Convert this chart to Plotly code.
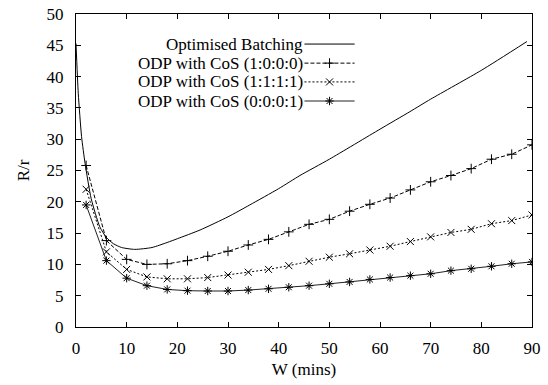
import plotly.graph_objects as go

# ---- data ----
batch_w = [0, 0.45, 1.1, 1.8, 3, 4.7, 6, 7.4, 9, 11.6, 15, 18, 20, 24.5, 30, 34.3, 40, 44.2, 50, 60, 65.9, 70, 80, 89]
batch_r = [45.3, 37.3, 30.4, 26.1, 20.5, 16.0, 14.3, 13.3, 12.7, 12.4, 12.7, 13.5, 14.1, 15.5, 17.6, 19.5, 22.1, 24.2, 26.8, 31.6, 34.4, 36.4, 41.0, 45.6]

w_pts = [2, 6, 10, 14, 18, 22, 26, 30, 34, 38, 42, 46, 50, 54, 58, 62, 66, 70, 74, 78, 82, 86, 90]
cos_1000 = [25.8, 13.8, 10.8, 10.0, 10.1, 10.6, 11.3, 12.1, 13.1, 14.0, 15.2, 16.4, 17.2, 18.5, 19.6, 20.6, 21.9, 23.2, 24.2, 25.3, 26.8, 27.6, 29.1]
cos_1111 = [22.0, 12.0, 9.2, 8.0, 7.7, 7.7, 7.9, 8.3, 8.75, 9.2, 9.8, 10.5, 11.15, 11.7, 12.3, 12.9, 13.65, 14.4, 15.1, 15.6, 16.5, 17.0, 17.9]
cos_0001 = [19.5, 10.6, 7.8, 6.6, 6.0, 5.8, 5.75, 5.75, 5.9, 6.1, 6.35, 6.6, 6.9, 7.2, 7.6, 7.9, 8.2, 8.5, 9.0, 9.3, 9.7, 10.1, 10.4]

names = ["Optimised Batching", "ODP with CoS (1:0:0:0)", "ODP with CoS (1:1:1:1)", "ODP with CoS (0:0:0:1)"]
x_ticks = [0, 10, 20, 30, 40, 50, 60, 70, 80, 90]
y_ticks = [0, 5, 10, 15, 20, 25, 30, 35, 40, 45, 50]

FONT = "'Liberation Serif', 'Times New Roman', Times, serif"
FS = 17
styles = [
    dict(dash="solid", symbol=None, color="black"),
    dict(dash="4px,2px", symbol="cross-thin-open", color="black"),
    dict(dash="2px,2px", symbol="x-thin-open", color="black"),
    dict(dash="solid", symbol="asterisk-open", color="#222"),
]

fig = go.Figure()
fig.add_trace(go.Scatter(x=batch_w, y=batch_r, mode="lines", line=dict(color="black", width=1, shape="spline", smoothing=0.6), showlegend=False))
for ys, st in zip([cos_1000, cos_1111, cos_0001], styles[1:]):
    fig.add_trace(go.Scatter(x=w_pts, y=ys, mode="lines+markers",
                             line=dict(color=st["color"], width=1, dash=st["dash"]),
                             marker=dict(symbol=st["symbol"], size=7, color="black", line=dict(width=1, color="black")),
                             showlegend=False))

# manual gnuplot-style legend (text left, sample right) on an overlay axis in 0..1 units
leg_y = [0.904, 0.843, 0.783, 0.722]
for i, (nm, st) in enumerate(zip(names, styles)):
    fig.add_trace(go.Scatter(x=[0.501, 0.611], y=[leg_y[i], leg_y[i]], mode="lines",
                             line=dict(color=st["color"], width=1, dash=st["dash"]),
                             xaxis="x2", yaxis="y2", showlegend=False, hoverinfo="skip"))
    if st["symbol"]:
        fig.add_trace(go.Scatter(x=[0.556], y=[leg_y[i]], mode="markers",
                                 marker=dict(symbol=st["symbol"], size=7, color="black", line=dict(width=1, color="black")),
                                 xaxis="x2", yaxis="y2", showlegend=False, hoverinfo="skip"))
    fig.add_annotation(x=0.502, y=leg_y[i], xref="x2", yref="y2", text=nm, showarrow=False,
                       xanchor="right", yanchor="middle", font=dict(family=FONT, size=FS, color="black"))

axis_common = dict(showline=True, linecolor="black", linewidth=1, mirror="ticks", ticks="inside",
                   ticklen=5, tickcolor="black", showgrid=False, zeroline=False, automargin=False,
                   tickfont=dict(family=FONT, size=FS, color="black"))

fig.update_layout(
    width=548, height=385,
    margin=dict(l=76, r=16, t=14, b=58, autoexpand=False),
    paper_bgcolor="white", plot_bgcolor="white",
    font=dict(family=FONT, size=FS, color="black"),
    xaxis=dict(range=[0, 90], tickvals=x_ticks, ticklabelstandoff=6,
               title=dict(text="W (mins)", font=dict(family=FONT, size=FS), standoff=5), **axis_common),
    yaxis=dict(range=[0, 50], tickvals=y_ticks, ticklabelstandoff=8,
               title=dict(text="R/r", font=dict(family=FONT, size=FS), standoff=12), **axis_common),
    xaxis2=dict(range=[0, 1], overlaying="x", visible=False, anchor="y2"),
    yaxis2=dict(range=[0, 1], overlaying="y", visible=False, anchor="x2"),
)

fig.write_html("out.html", config={"displayModeBar": False},
               post_script="document.body.style.margin='0';document.body.style.overflow='hidden';")
